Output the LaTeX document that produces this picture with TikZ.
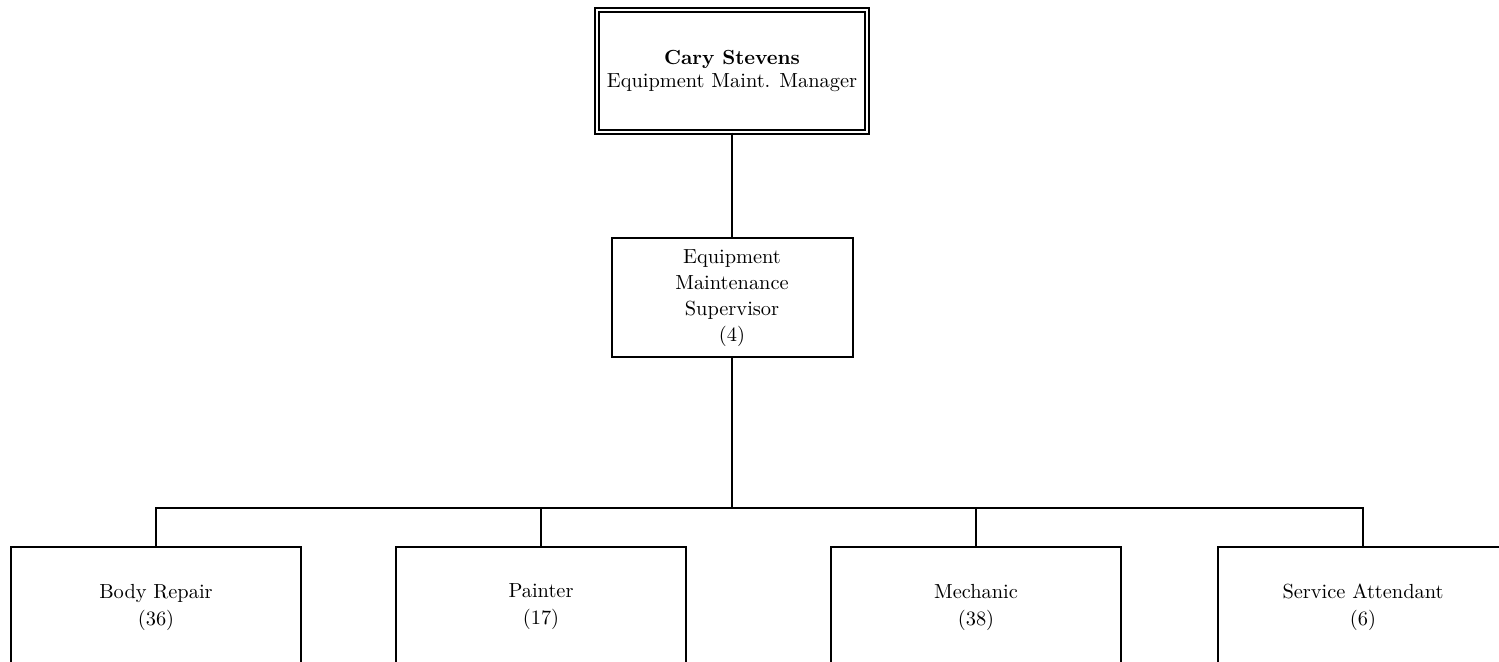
\documentclass[tikz,border=0pt]{standalone}
\usepackage{tikz}
\usetikzlibrary{positioning}

\tikzset{
    unit/.style={draw, line width=1pt, minimum width=145pt, minimum height=60pt, align=center},
    link/.style={line width=1pt}
}

\begin{document}
\begin{tikzpicture}[x=0.5pt, y=-0.5pt, font=\fontsize{10.2}{13}\selectfont]

    % Rozmery stranky
    \path[use as bounding box] (0,0) rectangle (1499,662);
    \clip (0,0) rectangle (1499,662);

    % 1. Vedouci
    \node[draw, double, double distance=1.2pt, line width=0.7pt, minimum width=135pt,
          minimum height=61pt, align=center] (mgr) at (732,71)
          {\textbf{Cary Stevens}\\[-1.5pt]Equipment Maint. Manager};

    % 2. Supervizor
    \node[unit, minimum width=120.5pt, minimum height=59.5pt] (sup) at (732,298)
          {Equipment\\Maintenance\\Supervisor\\(4)};

    % 3. Spodni uroven
    \coordinate (bus) at (732,508);
    \foreach \n/\cx/\txt in {body/156/{Body Repair\\(36)}, painter/541/{Painter\\(17)},
                             mech/976/{Mechanic\\(38)}, serv/1363/{Service Attendant\\(6)}} {
        \node[unit, font=\fontsize{10.2}{13.5}\selectfont] (\n) at (\cx,607) {\txt};
    }

    % 4. Spojnice
    \draw[link] (mgr.south) -- (sup.north);
    \draw[link] (sup.south) -- (bus);
    \foreach \n in {body, painter, mech, serv} {
        \draw[link] (bus) -| (\n.north);
    }

\end{tikzpicture}
\end{document}
